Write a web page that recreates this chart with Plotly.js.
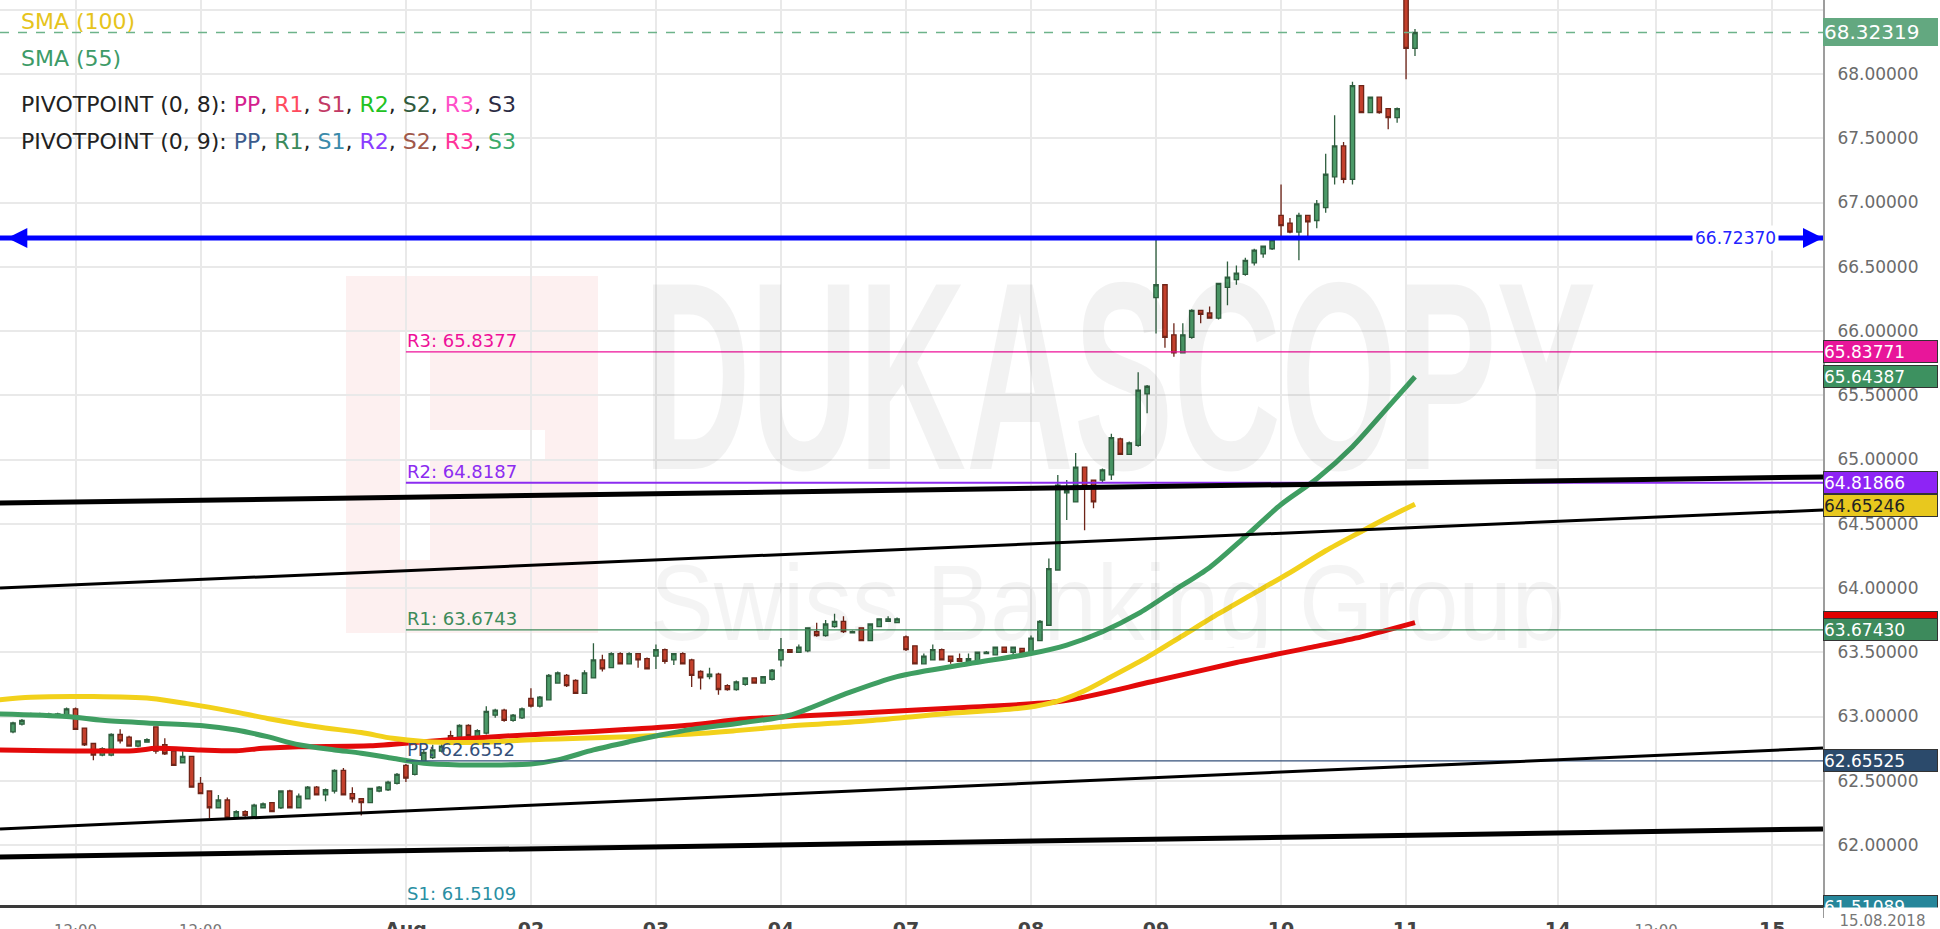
<!DOCTYPE html>
<html><head><meta charset="utf-8">
<script src="https://cdn.plot.ly/plotly-3.0.1.min.js"></script>
<style>html,body{margin:0;padding:0;background:#fff;overflow:hidden}#chart{width:1940px;height:929px}</style>
</head><body><div id="chart"></div>
<script>
// ---------- data ----------
const opens = [62.88,62.94,63.01,63.01,63.01,63.01,63.01,63.06,62.91,62.79,62.70,62.70,62.86,62.84,62.77,62.80,62.92,62.78,62.73,62.64,
62.69,62.48,62.42,62.29,62.35,62.21,62.26,62.22,62.29,62.33,62.29,62.42,62.29,62.36,62.45,62.39,62.42,62.58,62.40,62.36,
62.33,62.42,62.43,62.48,62.62,62.55,62.64,62.68,62.73,62.85,62.84,62.93,62.84,62.87,63.01,63.05,62.97,62.99,63.14,63.08,
63.13,63.26,63.32,63.28,63.18,63.30,63.44,63.38,63.49,63.41,63.49,63.45,63.47,63.52,63.44,63.49,63.44,63.35,63.31,63.33,
63.24,63.21,63.25,63.30,63.26,63.29,63.44,63.52,63.50,63.51,63.66,63.63,63.70,63.74,63.65,63.69,63.59,63.70,63.74,63.73,
63.62,63.55,63.41,63.44,63.52,63.47,63.45,63.43,63.43,63.49,63.48,63.54,63.50,63.53,63.50,63.59,63.71,64.14,64.74,64.67,
64.94,64.84,64.84,64.88,65.16,65.04,65.11,65.51,66.26,66.36,65.97,65.83,65.95,66.16,66.14,66.10,66.34,66.40,66.44,66.53,
66.60,66.64,66.90,66.84,66.77,66.90,66.86,66.96,67.20,67.44,67.18,67.91,67.70,67.82,67.73,67.66,68.65,68.20];
const highs = [62.96,62.98,63.03,63.03,63.03,63.03,63.07,63.07,62.91,62.79,62.76,62.87,62.90,62.85,62.81,62.83,62.92,62.83,62.74,62.73,
62.69,62.53,62.42,62.39,62.37,62.27,62.27,62.32,62.33,62.33,62.42,62.43,62.40,62.46,62.46,62.44,62.59,62.60,62.45,62.36,
62.44,62.46,62.50,62.56,62.63,62.66,62.74,62.78,62.83,62.89,62.94,62.94,62.90,63.08,63.06,63.06,63.02,63.07,63.22,63.16,
63.33,63.35,63.33,63.29,63.36,63.57,63.48,63.50,63.50,63.50,63.49,63.46,63.56,63.53,63.49,63.50,63.45,63.36,63.38,63.34,
63.25,63.28,63.30,63.30,63.31,63.37,63.61,63.52,63.56,63.69,63.73,63.75,63.80,63.78,63.67,63.69,63.72,63.76,63.78,63.77,
63.63,63.55,63.49,63.56,63.53,63.47,63.49,63.49,63.50,63.51,63.54,63.54,63.54,63.53,63.63,63.75,64.23,64.88,64.84,65.05,
64.94,64.84,64.93,65.20,65.17,65.14,65.68,65.58,66.72,66.36,66.06,66.06,66.17,66.16,66.19,66.37,66.54,66.51,66.57,66.64,
66.66,66.71,67.14,66.88,66.92,66.90,67.02,67.38,67.68,67.47,67.94,67.91,67.82,67.82,67.73,67.74,68.70,68.35];
const lows = [62.87,62.93,63.00,63.00,63.00,63.01,63.01,62.90,62.77,62.66,62.69,62.69,62.79,62.77,62.76,62.80,62.71,62.70,62.62,62.64,
62.45,62.40,62.21,62.29,62.21,62.21,62.22,62.21,62.29,62.26,62.28,62.29,62.29,62.36,62.39,62.34,62.40,62.39,62.33,62.23,
62.33,62.41,62.42,62.47,62.49,62.54,62.63,62.67,62.72,62.81,62.83,62.83,62.83,62.86,62.99,62.96,62.96,62.98,63.07,63.07,
63.13,63.26,63.23,63.18,63.18,63.30,63.35,63.38,63.41,63.41,63.38,63.37,63.37,63.41,63.40,63.41,63.23,63.21,63.29,63.17,
63.20,63.20,63.24,63.26,63.26,63.28,63.39,63.50,63.50,63.50,63.62,63.62,63.69,63.65,63.65,63.59,63.59,63.70,63.74,63.73,
63.51,63.41,63.41,63.44,63.44,63.41,63.43,63.43,63.43,63.49,63.48,63.50,63.48,63.50,63.49,63.59,63.71,64.14,64.53,64.67,
64.45,64.62,64.82,64.84,65.04,65.04,65.10,65.36,65.98,65.87,65.80,65.83,65.94,66.06,66.10,66.09,66.20,66.36,66.43,66.51,
66.57,66.63,66.73,66.76,66.55,66.73,66.80,66.92,67.14,67.15,67.14,67.70,67.70,67.69,67.57,67.62,67.96,68.14];
const closes = [62.95,62.97,63.02,63.02,63.02,63.02,63.06,62.90,62.78,62.70,62.75,62.86,62.81,62.77,62.81,62.82,62.73,62.71,62.62,62.69,
62.45,62.40,62.29,62.35,62.21,62.26,62.23,62.31,62.32,62.26,62.42,62.29,62.38,62.45,62.39,62.43,62.58,62.39,62.36,62.33,
62.44,62.45,62.49,62.55,62.52,62.65,62.72,62.74,62.77,62.82,62.93,62.85,62.89,63.04,63.05,62.97,63.01,63.06,63.08,63.15,
63.32,63.34,63.24,63.18,63.34,63.44,63.37,63.49,63.41,63.49,63.44,63.37,63.52,63.43,63.49,63.41,63.32,63.30,63.33,63.21,
63.21,63.27,63.30,63.26,63.31,63.36,63.52,63.50,63.54,63.69,63.63,63.72,63.74,63.66,63.66,63.59,63.72,63.76,63.76,63.76,
63.52,63.41,63.47,63.52,63.44,63.43,63.43,63.45,63.50,63.50,63.54,63.50,63.54,63.50,63.61,63.74,64.15,64.80,64.76,64.94,
64.79,64.67,64.92,65.17,65.04,65.13,65.54,65.57,66.36,65.95,65.83,65.97,66.16,66.13,66.10,66.37,66.42,66.45,66.55,66.63,
66.66,66.71,66.82,66.77,66.90,66.85,66.99,67.22,67.44,67.18,67.91,67.70,67.82,67.70,67.66,67.73,68.20,68.32319];

const xTickVals = [7,21,44,58,72,86,100,114,128,142,156,173,184,197];
const xTickText = ['12:00','12:00','Aug','02','03','04','07','08','09','10','11','14','12:00','15'];

const sma100X = [-1.5,2,9,15.5,19.5,24.5,28.5,34,39,42.5,46,50,54,57.5,61,69,76,81,87,95.5,104,113.5,117,120,123,127,131,135,139,143,147,151,154,157];
const sma100Y = [63.13,63.15,63.155,63.14,63.10,63.04,62.985,62.92,62.875,62.83,62.805,62.797,62.804,62.817,62.825,62.843,62.864,62.89,62.926,62.965,63.02,63.07,63.12,63.20,63.31,63.46,63.63,63.80,63.96,64.12,64.29,64.44,64.55,64.65246];
const sma55X = [-1.5,6,10,15,21,25,28.5,32,36,39,42.5,46,50,54,58,61,65,69,72.5,76,81.5,87,93,99,107,114,118,122,126,130,134,138,142,146,150,154,157];
const sma55Y = [63.02,63.00,62.97,62.95,62.93,62.895,62.843,62.78,62.74,62.714,62.675,62.636,62.623,62.623,62.63,62.662,62.74,62.804,62.856,62.90,62.95,63.01,63.17,63.31,63.41,63.49,63.556,63.66,63.80,63.98,64.16,64.40,64.65,64.85,65.10,65.41,65.64387];
const smaRedX = [-1.5,13.5,16,21,25,28,32,40,46,54,61,69,76,81.5,87,95.5,106.5,117.5,127.5,137,145.5,151,157];
const smaRedY = [62.74,62.734,62.752,62.739,62.734,62.752,62.765,62.772,62.804,62.843,62.869,62.90,62.934,62.978,63.00,63.03,63.07,63.12,63.27,63.42,63.54,63.62,63.73];

const pivotValues = [65.83771, 64.81866, 63.67430, 62.65525, 61.51089];
const pivotLabels = ['R3: 65.8377','R2: 64.8187','R1: 63.6743','PP: 62.6552','S1: 61.5109'];
const pivotStart = 44;

const trendStartY = [64.661, 64.000, 62.125, 61.907];
const trendEndY   = [64.864, 64.607, 62.755, 62.125];
const blueLevel = 66.7237;

const xRange = [-1.456, 202.69];
const yRange = [61.533, 68.576];

// ---------- styles ----------
const FONT = 'DejaVu Sans, Liberation Sans, Arial, sans-serif';
const pivotColors = ['#ee1199','#8c2cf0','#3d8b5a','#34507a','#2a8fa3'];
const pivotTagColors = ['#e8169a','#8e24f5','#3d8a5c','#2b4a6b','#26869a'];
const trendWidths = [5,3,3,5];

const idx = opens.map((_, i) => i);
const traces = [];
traces.push({type:'scatter', mode:'lines', x:smaRedX, y:smaRedY, line:{color:'#e30a0a', width:5, shape:'spline', smoothing:0.8}, hoverinfo:'skip'});
traces.push({type:'scatter', mode:'lines', x:sma100X, y:sma100Y, line:{color:'#f2d11b', width:5, shape:'spline', smoothing:0.8}, hoverinfo:'skip'});
traces.push({type:'scatter', mode:'lines', x:sma55X, y:sma55Y, line:{color:'#3f9e62', width:5, shape:'spline', smoothing:0.8}, hoverinfo:'skip'});
pivotValues.forEach((v, k) => {
  traces.push({type:'scatter', mode:'lines', x:[pivotStart, xRange[1]], y:[v, v], line:{color:pivotColors[k], width:k===1?2:1.3}, hoverinfo:'skip'});
});
traces.push({type:'scatter', mode:'lines', x:[xRange[0], xRange[1]], y:[closes[closes.length-1], closes[closes.length-1]], line:{color:'#6db38a', width:1.5, dash:'dash'}, hoverinfo:'skip'});
traces.push({type:'candlestick', x:idx, open:opens, high:highs, low:lows, close:closes,
  increasing:{line:{color:'#2e5e3e', width:1.3}, fillcolor:'#4b9a68'},
  decreasing:{line:{color:'#6e2418', width:1.3}, fillcolor:'#c4402c'},
  whiskerwidth:0, hoverinfo:'skip'});
trendStartY.forEach((y0, k) => {
  traces.push({type:'scatter', mode:'lines', x:[xRange[0], xRange[1]], y:[y0, trendEndY[k]], line:{color:'#000', width:trendWidths[k]}, hoverinfo:'skip'});
});
traces.push({type:'scatter', mode:'lines', x:[xRange[0], xRange[1]], y:[blueLevel, blueLevel], line:{color:'#0000ff', width:5}, hoverinfo:'skip'});

const PLOT_H = 905, PLOT_W = 1823;
const py = px => 1 - px / PLOT_H;
const vToPaper = v => (v - yRange[0]) / (yRange[1] - yRange[0]);

const ann = [];
ann.push({xref:'paper', yref:'paper', x:0.614, y:py(376), text:'DUKASCOPY', showarrow:false, xanchor:'center', yanchor:'middle', width:953, height:200,
  font:{family:'Liberation Sans, Arial, sans-serif', size:268, color:'rgba(0,0,0,0.05)', weight:700}});
ann.push({xref:'paper', yref:'paper', x:0.6075, y:py(603), text:'Swiss Banking Group', showarrow:false, xanchor:'center', yanchor:'middle', width:915, height:90,
  font:{family:'Liberation Sans, Arial, sans-serif', size:107, color:'rgba(0,0,0,0.045)'}});
const sp = (c, t) => '<span style="color:' + c + '">' + t + '</span>';
ann.push({xref:'paper', yref:'paper', x:19/PLOT_W, y:py(22), xanchor:'left', yanchor:'middle', showarrow:false, text:'SMA (100)', font:{family:FONT, size:22, color:'#e6c41c'}});
ann.push({xref:'paper', yref:'paper', x:19/PLOT_W, y:py(58), xanchor:'left', yanchor:'middle', showarrow:false, text:'SMA (55)', font:{family:FONT, size:22, color:'#3d9b68'}});
ann.push({xref:'paper', yref:'paper', x:19/PLOT_W, y:py(104), xanchor:'left', yanchor:'middle', showarrow:false,
  text:'PIVOTPOINT (0, 8): ' + [sp('#d4208e','PP'), sp('#ff4a5e','R1'), sp('#c23a66','S1'), sp('#22c222','R2'), sp('#2f5a3c','S2'), sp('#ff4fc8','R3'), sp('#2c2c44','S3')].join(', '),
  font:{family:FONT, size:22, color:'#222'}});
ann.push({xref:'paper', yref:'paper', x:19/PLOT_W, y:py(141), xanchor:'left', yanchor:'middle', showarrow:false,
  text:'PIVOTPOINT (0, 9): ' + [sp('#3a5a8c','PP'), sp('#3a8a5c','R1'), sp('#3a8aaa','S1'), sp('#8a3cff','R2'), sp('#a0584a','S2'), sp('#ff3399','R3'), sp('#3aaa6a','S3')].join(', '),
  font:{family:FONT, size:22, color:'#222'}});
pivotValues.forEach((v, k) => {
  const yy = k === 4 ? {yref:'paper', y:0} : {yref:'y', y:v};
  ann.push(Object.assign({xref:'x', x:pivotStart, xanchor:'left', yanchor:'bottom', showarrow:false, text:pivotLabels[k], borderpad:0,
    font:{family:FONT, size:18, color:pivotColors[k]}}, yy));
});
ann.push({xref:'paper', yref:'y', x:0.004, y:blueLevel, ax:22, ay:0, text:'', showarrow:true, arrowhead:2, arrowsize:1, arrowwidth:4, arrowcolor:'#0000ff'});
ann.push({xref:'paper', yref:'y', x:1, y:blueLevel, ax:-22, ay:0, text:'', showarrow:true, arrowhead:2, arrowsize:1, arrowwidth:4, arrowcolor:'#0000ff'});
ann.push({xref:'paper', yref:'y', x:1735/PLOT_W, y:blueLevel, text:blueLevel.toFixed(5), showarrow:false, xanchor:'center', yanchor:'middle', bgcolor:'#ffffff', borderpad:2,
  font:{family:FONT, size:17, color:'#2323ff'}});
function tag(v, txt, bg, fg, opt) {
  opt = opt || {};
  const inRange = v >= yRange[0] && v <= yRange[1];
  return Object.assign({xref:'paper', x:1, xanchor:'left', yanchor:'middle', showarrow:false, text:txt, align:'left',
    width:opt.w || 113, height:opt.h || 21, borderpad:0, borderwidth:1, bordercolor:'#333', bgcolor:bg,
    font:{family:FONT, size:opt.fs || 17, color:fg}},
    inRange ? {yref:'y', y:v} : {yref:'paper', y:vToPaper(v)}, opt.extra || {});
}
ann.push(tag(closes[closes.length-1], closes[closes.length-1].toFixed(5), '#63a880', '#fff', {h:26, fs:20, extra:{bordercolor:'#63a880'}}));
ann.push(tag(pivotValues[0], pivotValues[0].toFixed(5), pivotTagColors[0], '#fff'));
ann.push(tag(sma55Y[sma55Y.length-1], sma55Y[sma55Y.length-1].toFixed(5), '#3d9160', '#fff'));
ann.push(tag(pivotValues[1], pivotValues[1].toFixed(5), pivotTagColors[1], '#fff'));
ann.push(tag(sma100Y[sma100Y.length-1], sma100Y[sma100Y.length-1].toFixed(5), '#e8c81e', '#222', {extra:{yshift:-1}}));
ann.push(tag(smaRedY[smaRedY.length-1], ' ', '#e00000', '#e00000'));
ann.push(tag(pivotValues[2], pivotValues[2].toFixed(5), pivotTagColors[2], '#fff'));
ann.push(tag(pivotValues[3], pivotValues[3].toFixed(5), pivotTagColors[3], '#fff'));
ann.push(tag(pivotValues[4], pivotValues[4].toFixed(5), pivotTagColors[4], '#fff', {extra:{yanchor:'top', y:py(895)}}));
ann.push({xref:'paper', yref:'paper', x:1, y:py(907), xanchor:'left', yanchor:'top', showarrow:false, text:'15.08.2018', align:'center',
  width:117, height:22, bgcolor:'#ffffff', borderpad:0, font:{family:FONT, size:15, color:'#777'}, valign:'bottom'});

const shapes = [
  {type:'rect', xref:'paper', yref:'paper', x0:346/PLOT_W, x1:598/PLOT_W, y0:py(633), y1:py(276), fillcolor:'rgba(230,60,60,0.08)', line:{width:0}, layer:'below'},
  {type:'rect', xref:'paper', yref:'paper', x0:400/PLOT_W, x1:430/PLOT_W, y0:py(560), y1:py(330), fillcolor:'#ffffff', line:{width:0}, layer:'below'},
  {type:'rect', xref:'paper', yref:'paper', x0:430/PLOT_W, x1:545/PLOT_W, y0:py(460), y1:py(430), fillcolor:'#ffffff', line:{width:0}, layer:'below'}
];

const dayStyle = t => /:/.test(t) ? '<span style="font-size:15px;fill:#777">' + t + '</span>' : '<b>' + t + '</b>';

const layout = {
  width:1940, height:929, autosize:false,
  margin:{l:0, r:117, t:0, b:24, pad:0},
  paper_bgcolor:'#ffffff', plot_bgcolor:'#ffffff',
  showlegend:false,
  font:{family:FONT},
  xaxis:{type:'linear', range:xRange, rangeslider:{visible:false}, tickvals:xTickVals, ticktext:xTickText.map(dayStyle),
    showgrid:true, gridcolor:'#e9e9e9', gridwidth:2, zeroline:false, showline:true, linecolor:'#3a3a3a', linewidth:3,
    ticks:'', tickangle:0, ticklabelstandoff:5, tickfont:{family:FONT, size:19, color:'#444'}, fixedrange:true},
  yaxis:{side:'right', range:yRange, dtick:0.5, tick0:0, tickformat:'.5f', showgrid:true, gridcolor:'#e9e9e9', gridwidth:2,
    zeroline:false, showline:true, linecolor:'#9d9d9d', linewidth:2, ticks:'', ticklabelstandoff:9,
    tickfont:{family:FONT, size:17, color:'#6b6b6b'}, fixedrange:true},
  annotations:ann,
  shapes:shapes
};

Plotly.newPlot('chart', traces, layout, {staticPlot:true, displayModeBar:false}).then(() => {
  document.querySelectorAll('text.annotation-text').forEach(el => {
    const t = el.textContent;
    if (t === 'DUKASCOPY') { el.setAttribute('textLength', '953'); el.setAttribute('lengthAdjust', 'spacingAndGlyphs'); }
    if (t === 'Swiss Banking Group') { el.setAttribute('textLength', '915'); el.setAttribute('lengthAdjust', 'spacingAndGlyphs'); }
  });
});
</script>
</body></html>
